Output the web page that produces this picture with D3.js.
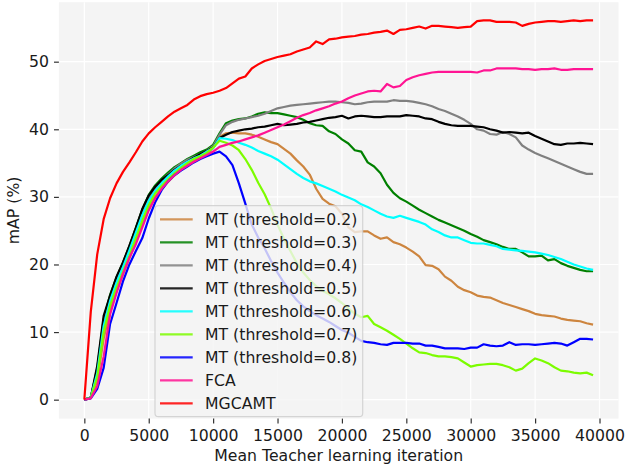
<!DOCTYPE html>
<html>
<head>
<meta charset="utf-8">
<script src="https://cdn.jsdelivr.net/npm/d3@7"></script>
<style>
  body { margin: 0; background: #ffffff; }
  svg { display: block; font-family: "DejaVu Sans", sans-serif; }
</style>
</head>
<body>
<svg id="chart" width="626" height="470"></svg>
<script>
// ---------------- data ----------------
const iterations = [
  0,500,1000,1500,2000,2500,3000,3500,4000,4500,5000,5500,6000,6500,7000,7500,8000,8500,9000,9500,
  10000,10500,11000,11500,12000,12500,13000,13500,14000,14500,15000,15500,16000,16500,17000,17500,18000,18500,19000,19500,
  20000,20500,21000,21500,22000,22500,23000,23500,24000,24500,25000,25500,26000,26500,27000,27500,28000,28500,29000,29500,
  30000,30500,31000,31500,32000,32500,33000,33500,34000,34500,35000,35500,36000,36500,37000,37500,38000,38500,39000,39500
];

const mt02 = [
  0,0.3,2.8,9.0,13.2,16.0,18.5,20.9,23.3,25.9,28.3,30.0,31.2,32.2,33.2,34.0,34.7,35.3,35.8,36.3,
  37.2,38.9,39.4,39.5,39.4,39.4,39.2,38.9,38.5,38.1,37.8,37.1,36.4,35.4,34.5,33.3,31.2,29.7,29.0,28.6,
  27.5,25.5,24.8,24.9,24.9,24.3,23.8,24.0,23.3,23.0,22.5,21.9,21.2,19.9,19.8,19.3,18.2,17.6,16.7,16.2,
  15.9,15.4,15.2,15.1,14.7,14.3,14.0,13.7,13.4,13.1,12.7,12.5,12.4,12.3,12.0,11.8,11.7,11.6,11.3,11.1
];
const mt03 = [
  0,0.3,4.6,11.9,15.5,18.1,20.3,22.7,25.4,28.1,30.3,31.7,32.7,33.6,34.4,35.0,35.6,36.1,36.6,37.0,
  37.7,39.4,40.9,41.3,41.5,41.6,41.9,42.3,42.5,42.4,42.4,42.2,42.0,41.8,41.4,40.9,40.6,40.5,39.7,39.3,
  38.5,37.9,36.9,36.7,35.1,34.5,33.5,31.8,30.6,29.8,29.3,28.7,28.1,27.6,27.1,26.6,26.2,25.8,25.4,25.0,
  24.5,24.1,23.6,23.3,23.0,22.6,22.3,22.3,21.8,21.2,21.2,21.3,20.6,20.8,20.2,19.8,19.5,19.2,19.0,19.0
];
const mt04 = [
  0,0.3,4.2,11.4,15.0,17.7,19.9,22.4,25.1,27.7,29.8,31.3,32.4,33.3,34.2,34.9,35.5,35.9,36.3,36.8,
  37.5,39.2,40.6,41.1,41.4,41.6,41.8,42.0,42.3,42.7,43.1,43.3,43.5,43.6,43.7,43.8,43.9,44.0,44.1,44.1,
  44.0,43.9,43.7,43.8,44.0,44.1,44.1,44.1,44.3,44.2,44.2,44.1,43.9,43.7,43.4,43.0,42.7,42.3,41.9,41.4,
  40.8,40.0,39.8,39.3,39.2,39.6,39.3,38.8,37.6,37.0,36.5,36.1,35.7,35.3,34.9,34.5,34.1,33.7,33.4,33.4
];
const mt05 = [
  0,0.3,5.0,12.4,15.4,18.2,20.3,22.8,25.4,28.2,30.2,31.5,32.5,33.2,34.0,34.6,35.2,35.8,36.3,36.8,
  37.3,38.7,39.2,39.6,39.8,40.0,40.1,40.3,40.4,40.6,40.8,40.6,40.7,40.8,41.0,41.1,41.3,41.5,41.7,41.8,
  42.0,41.6,41.9,42.0,41.9,41.8,41.8,41.9,41.9,41.9,42.1,42.0,41.9,41.6,41.5,41.1,40.8,40.6,40.5,40.5,
  40.5,40.4,40.3,40.0,39.8,39.5,39.6,39.5,39.4,39.5,39.0,38.6,38.2,37.8,37.7,37.9,37.9,38.0,37.9,37.8
];
const mt06 = [
  0,0.3,3.9,10.9,14.6,17.3,19.6,22.1,24.7,27.3,29.4,30.9,32.0,33.0,33.9,34.6,35.2,35.7,36.1,36.7,
  37.2,38.7,38.6,38.4,38.0,37.7,37.3,36.8,36.4,36.0,35.5,34.8,34.1,33.4,32.8,32.3,32.0,31.6,31.2,30.8,
  30.3,29.9,29.5,28.9,28.5,28.0,27.5,27.1,26.9,27.2,26.9,26.6,26.3,25.9,25.2,24.8,24.3,24.0,24.0,23.6,
  23.2,23.1,23.1,22.9,22.7,22.3,22.2,22.1,22.0,21.9,21.8,21.6,21.4,21.1,20.8,20.4,20.0,19.7,19.4,19.2
];
const mt07 = [
  0,0.3,3.3,10.0,13.9,16.6,18.9,21.3,23.9,26.5,28.8,30.5,31.6,32.6,33.5,34.3,35.0,35.6,36.0,36.5,
  37.3,38.3,38.0,37.6,36.9,35.6,34.0,32.1,30.4,28.3,25.9,23.8,22.0,20.2,18.8,17.7,16.8,16.1,15.6,15.0,
  14.3,13.5,12.7,12.2,12.4,11.2,10.7,10.2,9.6,9.0,8.3,7.6,7.0,6.9,6.6,6.4,6.4,6.3,6.1,5.5,
  4.9,5.1,5.2,5.3,5.3,5.1,4.8,4.3,4.6,5.4,6.1,5.8,5.4,4.8,4.3,4.2,4.0,3.9,4.0,3.6
];
const mt08 = [
  0,0.2,1.6,4.7,11.2,14.3,17.5,20.0,22.0,23.9,26.8,29.2,31.0,32.3,33.2,33.9,34.5,35.1,35.6,36.0,
  36.4,36.7,36.0,34.7,32.0,29.0,25.9,24.0,22.4,20.5,18.8,17.3,15.9,14.7,13.8,13.1,12.5,12.0,11.5,10.9,
  10.3,9.9,9.3,8.7,8.5,8.4,8.2,8.1,8.4,8.4,8.4,8.3,8.3,8.0,8.0,7.8,7.6,7.6,7.6,7.5,
  7.7,7.7,8.2,8.0,7.9,8.0,8.5,8.1,8.2,8.2,8.1,8.2,8.3,8.4,8.3,8.0,8.5,9.0,9.0,8.9
];
const fca = [
  0,0.2,2.0,6.4,12.6,15.8,18.6,21.0,23.0,25.5,28.0,29.8,31.2,32.3,33.2,34.0,34.6,35.2,35.7,36.2,
  36.7,37.4,37.7,38.0,38.2,38.5,38.8,39.1,39.5,39.9,40.3,40.7,41.2,41.7,42.1,42.4,42.8,43.1,43.4,43.8,
  44.1,44.6,45.0,45.3,45.6,45.7,45.6,46.7,46.2,46.4,47.3,47.7,48.0,48.2,48.4,48.5,48.5,48.5,48.5,48.5,
  48.5,48.4,48.7,48.7,49.0,49.0,49.0,49.0,48.9,48.9,48.8,48.9,48.9,49.0,48.8,48.8,48.9,48.9,48.9,48.9
];
const mgcamt = [
  0,13.0,21.5,26.7,29.8,32.0,33.7,35.1,36.6,38.2,39.4,40.3,41.1,41.9,42.6,43.1,43.6,44.4,44.9,45.2,
  45.4,45.7,46.1,46.8,47.5,47.8,49.0,49.6,50.1,50.4,50.7,50.9,51.1,51.5,51.8,52.1,53.0,52.6,53.3,53.4,
  53.6,53.7,53.8,54.0,54.1,54.3,54.4,54.6,54.1,54.7,54.8,55.0,55.2,54.9,55.3,55.3,55.2,55.1,55.0,55.1,
  55.2,56.0,56.1,56.1,55.9,55.9,55.9,55.8,55.3,55.6,55.8,55.9,56.0,56.0,55.9,56.0,56.1,56.0,56.1,56.1
];

const seriesNames = [
  "MT (threshold=0.2)","MT (threshold=0.3)","MT (threshold=0.4)","MT (threshold=0.5)",
  "MT (threshold=0.6)","MT (threshold=0.7)","MT (threshold=0.8)","FCA","MGCAMT"
];
const seriesValues = [mt02, mt03, mt04, mt05, mt06, mt07, mt08, fca, mgcamt];
const seriesColors = ["#cd853f","#008000","#808080","#000000","#00ffff","#7cfc00","#0000ff","#ff1493","#ff0000"];

const xTicks = [0,5000,10000,15000,20000,25000,30000,35000,40000];
const yTicks = [0,10,20,30,40,50];
const xLabel = "Mean Teacher learning iteration";
const yLabel = "mAP (%)";

// ---------------- layout ----------------
const svg = d3.select("#chart");
const L = 58.9, R = 618.5, T = 2.2, B = 418.6;
const FS = 15.7;

const x = d3.scaleLinear().domain([-1975, 41475]).range([L, R]);
const y = d3.scaleLinear().domain([-2.8, 58.8]).range([B, T]);

svg.append("rect").attr("x", L).attr("y", T).attr("width", R - L).attr("height", B - T)
  .attr("fill", "#f4f4f4");

// grid
const grid = svg.append("g");
grid.selectAll("line.gx").data(xTicks).join("line")
  .attr("x1", d => x(d)).attr("x2", d => x(d)).attr("y1", T).attr("y2", B)
  .attr("stroke", "#ffffff").attr("stroke-width", 1.2);
grid.selectAll("line.gy").data(yTicks).join("line")
  .attr("y1", d => y(d)).attr("y2", d => y(d)).attr("x1", L).attr("x2", R)
  .attr("stroke", "#ffffff").attr("stroke-width", 1.2);

// axes
const xAxis = svg.append("g").attr("transform", `translate(0,${B})`)
  .call(d3.axisBottom(x).tickValues(xTicks).tickFormat(d3.format("d")).tickSize(4.9).tickPadding(6.6));
const yAxis = svg.append("g").attr("transform", `translate(${L},0)`)
  .call(d3.axisLeft(y).tickValues(yTicks).tickFormat(d3.format("d")).tickSize(4.9).tickPadding(5));
[xAxis, yAxis].forEach(a => {
  a.select(".domain").remove();
  a.selectAll(".tick line").attr("stroke", "#333333").attr("stroke-width", 1.2);
  a.selectAll(".tick text").attr("fill", "#1a1a1a")
    .style("font-family", "'DejaVu Sans', sans-serif").style("font-size", FS + "px");
});

svg.append("text").attr("x", (L + R) / 2).attr("y", 461)
  .attr("text-anchor", "middle").attr("fill", "#1a1a1a")
  .style("font-size", FS + "px").text(xLabel);
svg.append("text").attr("transform", `translate(19,${(T + B) / 2}) rotate(-90)`)
  .attr("text-anchor", "middle").attr("fill", "#1a1a1a")
  .style("font-size", FS + "px").text(yLabel);

// lines
const line = d3.line().x((d, i) => x(iterations[i])).y(d => y(d));
const lines = svg.append("g");
seriesValues.forEach((vals, k) => {
  lines.append("path").datum(vals)
    .attr("d", line)
    .attr("fill", "none")
    .attr("stroke", seriesColors[k])
    .attr("stroke-width", 2.2)
    .attr("stroke-linejoin", "round")
    .attr("stroke-linecap", "butt");
});

// legend
const lg = svg.append("g");
lg.append("rect").attr("x", 155).attr("y", 205.7).attr("width", 207.7).attr("height", 211)
  .attr("rx", 3.5).attr("ry", 3.5)
  .attr("fill", "#f4f4f4").attr("fill-opacity", 0.8)
  .attr("stroke", "#cccccc").attr("stroke-opacity", 0.8).attr("stroke-width", 1.2);
const rowY0 = 219.3, rowStep = 23.0;
seriesNames.forEach((name, k) => {
  const ry = rowY0 + k * rowStep;
  lg.append("line").attr("x1", 160).attr("x2", 192.7).attr("y1", ry).attr("y2", ry)
    .attr("stroke", seriesColors[k]).attr("stroke-width", 2.2).attr("stroke-opacity", 0.85);
  lg.append("text").attr("x", 205).attr("y", ry).attr("dy", "0.36em")
    .attr("fill", "#1a1a1a").style("font-size", FS + "px").text(name);
});
</script>
</body>
</html>
